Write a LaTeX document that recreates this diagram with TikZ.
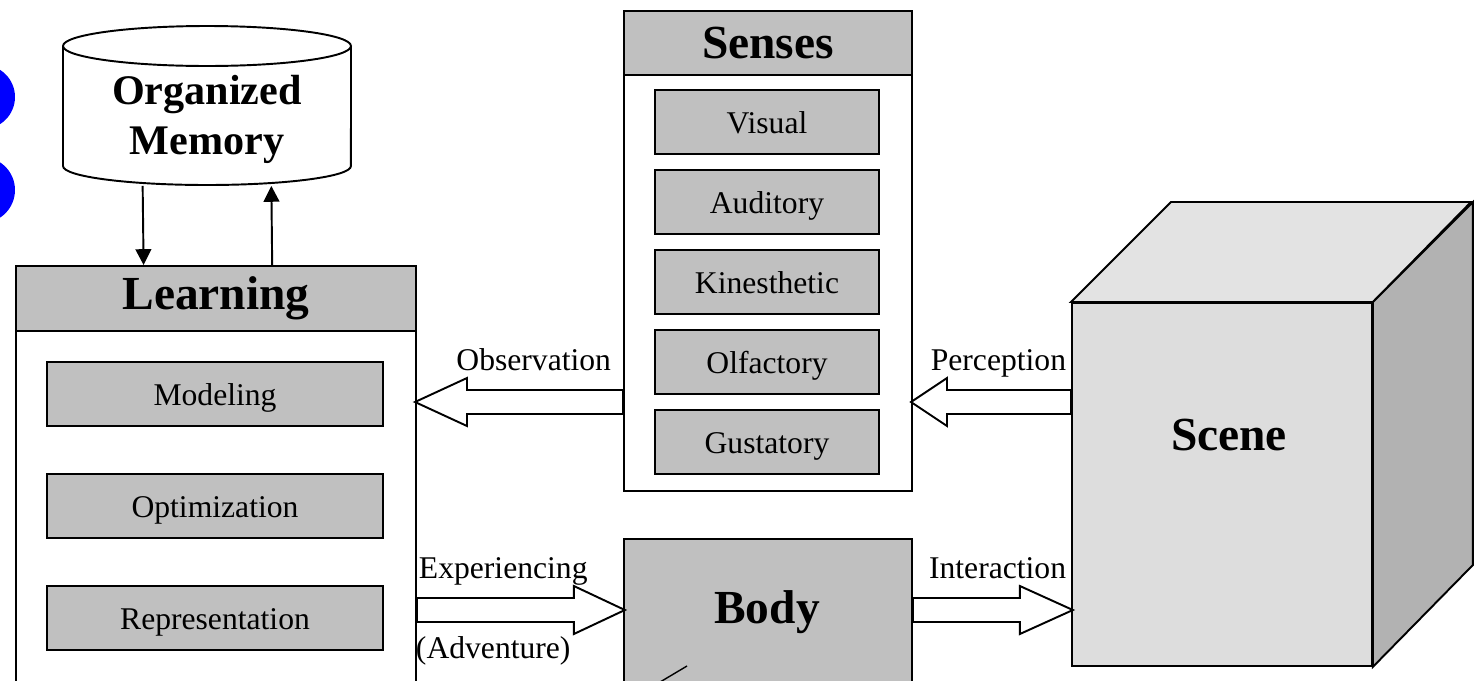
\documentclass[tikz,border=0pt]{standalone}
\usepackage{fontspec}
\setmainfont{Liberation Serif}
\usetikzlibrary{arrows.meta,calc}
\definecolor{boxgray}{RGB}{192,192,192}
\definecolor{frontgray}{RGB}{221,221,221}
\definecolor{topgray}{RGB}{227,227,227}
\definecolor{sidegray}{RGB}{178,178,178}
\definecolor{dotblue}{RGB}{0,0,255}
\tikzset{
  frame/.style={draw, line width=1.1pt, rectangle, inner sep=0pt, anchor=north west},
  headbox/.style={frame, fill=boxgray, font=\fontsize{27}{30}\selectfont\bfseries},
  itembox/.style={draw, line width=1.1pt, rectangle, fill=boxgray, inner sep=0pt,
     minimum width=4.48cm, minimum height=1.28cm, font=\fontsize{18}{20}\selectfont,
     text height=14pt, text depth=1pt},
  witembox/.style={itembox, minimum width=6.72cm},
  lbl/.style={font=\fontsize{18}{20}\selectfont, inner sep=0pt, text height=14pt, text depth=1.5pt},
  block/.style={draw, line width=1.1pt, fill=white, line join=miter},
  thin/.style={line width=1.1pt, -{Triangle[length=9pt,width=9pt]}},
  bigtxt/.style={font=\fontsize{27}{30}\selectfont\bfseries, inner sep=0pt}
}
\begin{document}
\begin{tikzpicture}[x=0.02cm, y=-0.02cm, line width=1.1pt]
\useasboundingbox (0,0) rectangle (1480,680);
\clip (0,0) rectangle (1480,680);
\fill[white] (0,0) rectangle (1480,680);

% blue dots at the left edge
\fill[dotblue] (-17,97) circle[radius=0.64cm];
\fill[dotblue] (-18,190) circle[radius=0.66cm];

% Organized Memory cylinder
\node[inner sep=0pt, minimum width=5.76cm, minimum height=3.18cm] (mem) at (207,105.5) {};
\draw[fill=white] (63,46) -- (63,166) arc[start angle=180, end angle=360, x radius=2.88cm, y radius=0.38cm] -- (351,46);
\draw[fill=white] (207,46) ellipse[x radius=2.88cm, y radius=0.4cm];
\node[align=center, font=\fontsize{24}{28.5}\selectfont\bfseries, inner sep=0pt] (memtext) at (207,119) {Organized\\Memory};

% Learning
\node[frame, minimum width=8cm, minimum height=8.7cm] (learn) at (15,265) {};
\node[headbox, minimum width=8cm, minimum height=1.3cm] (learnhead) at (15,265) {Learning};
\node[witembox] (model) at (215,394) {Modeling};
\node[witembox] (optim) at (215,506) {Optimization};
\node[witembox] (repr) at (215,618) {Representation};

% memory <-> learning
\draw[thin] ($(mem.south west)!0.278!(mem.south east)$) -- ($(learn.north west)!0.32!(learn.north east)$);
\draw[thin] ($(learn.north west)!0.64!(learn.north east)$) -- ($(mem.south west)!0.722!(mem.south east)$);

% Senses
\node[frame, minimum width=5.76cm, minimum height=9.6cm] (senses) at (623,10) {};
\node[headbox, minimum width=5.76cm, minimum height=1.28cm] (senseshead) at (623,10) {Senses};
\node[itembox] (visual) at (767,122) {Visual};
\node[itembox] (audit) at (767,202) {Auditory};
\node[itembox] (kines) at (767,282) {Kinesthetic};
\node[itembox] (olfac) at (767,362) {Olfactory};
\node[itembox] (gusta) at (767,442) {Gustatory};

% Body
\node[frame, fill=boxgray, minimum width=5.76cm, minimum height=3.4cm] (body) at (623,538) {};
\node[bigtxt] (bodytext) at (767,612) {Body};
\draw[line width=0.8pt] (650,688) -- (687,666);

% Scene cube
\node[frame, fill=frontgray, minimum width=6cm, minimum height=7.26cm] (scene) at (1071,302) {};
\draw[fill=topgray, line join=miter] (scene.north west) -- ++(100,-100) -- ++(300,0) -- (scene.north east) -- cycle;
\draw[fill=sidegray, line join=miter] (scene.north east) -- ++(100,-100) -- ++(0,363) -- (scene.south east) -- cycle;
\node[bigtxt] (scenetext) at (1229,435) {Scene};

% Observation: senses -> learning
\draw[block] (senses.west |- 0,390) -- ++(-156,0) -- ++(0,-12) -- ++(-52,24) -- ++(52,24) -- ++(0,-12) -- ++(156,0) -- cycle;
\node[lbl, anchor=east] (obs) at (612,360) {Observation};

% Perception: scene -> senses
\draw[block] (scene.west |- 0,390) -- ++(-124,0) -- ++(0,-12) -- ++(-36,24) -- ++(36,24) -- ++(0,-12) -- ++(124,0) -- cycle;
\node[lbl, anchor=east] (perc) at (1067,360) {Perception};

% Experiencing: learning -> body
\draw[block] (learn.east |- 0,598) -- ++(157,0) -- ++(0,-12) -- ++(51,24) -- ++(-51,24) -- ++(0,-12) -- ++(-157,0) -- cycle;
\node[lbl, anchor=west] (exper) at (418,568) {Experiencing};
\node[lbl, anchor=west] (adven) at (415,648) {(Adventure)};

% Interaction: body -> scene
\draw[block] (body.east |- 0,598) -- ++(107,0) -- ++(0,-12) -- ++(53,24) -- ++(-53,24) -- ++(0,-12) -- ++(-107,0) -- cycle;
\node[lbl, anchor=east] (inter) at (1067,568) {Interaction};
\end{tikzpicture}
\end{document}
